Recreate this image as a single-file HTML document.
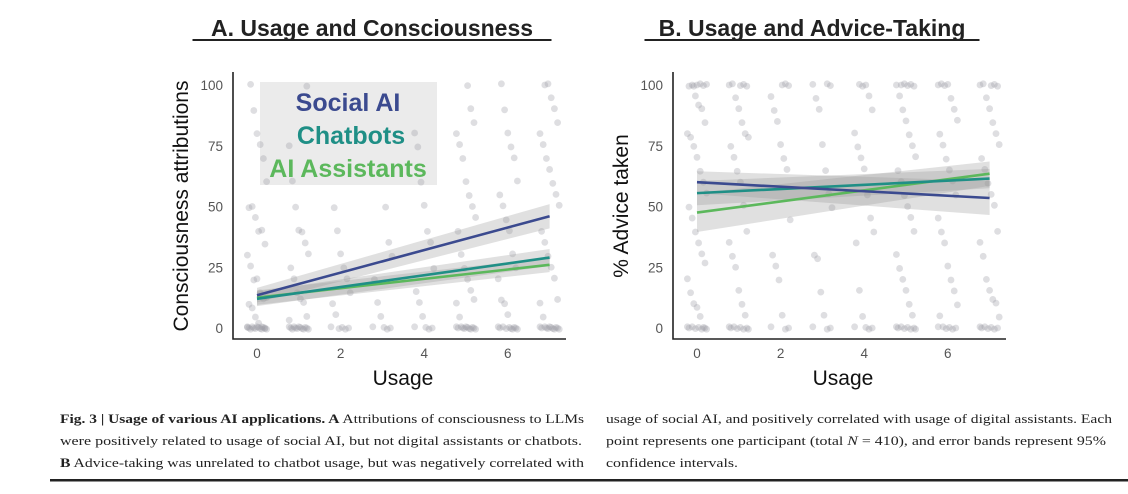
<!DOCTYPE html>
<html><head><meta charset="utf-8"><style>
html,body{margin:0;padding:0;background:#fff;width:1128px;height:494px;overflow:hidden}
svg text{font-family:"Liberation Sans",sans-serif}
.cap{font-family:"Liberation Serif",serif;font-size:13px;fill:#222}
</style></head><body>
<svg id="fig" width="1128" height="494" viewBox="0 0 1128 494">
<g id="pA"></g>
<g id="pB"></g>
<g>
<text class="cap" x="60" y="423" textLength="524" lengthAdjust="spacingAndGlyphs"><tspan font-weight="bold">Fig. 3 | Usage of various AI applications. A</tspan> Attributions of consciousness to LLMs</text>
<text class="cap" x="60" y="445" textLength="522" lengthAdjust="spacingAndGlyphs">were positively related to usage of social AI, but not digital assistants or chatbots.</text>
<text class="cap" x="60" y="467" textLength="524" lengthAdjust="spacingAndGlyphs"><tspan font-weight="bold">B</tspan> Advice-taking was unrelated to chatbot usage, but was negatively correlated with</text>
<text class="cap" x="606" y="423" textLength="506" lengthAdjust="spacingAndGlyphs">usage of social AI, and positively correlated with usage of digital assistants. Each</text>
<text class="cap" x="606" y="445" textLength="500" lengthAdjust="spacingAndGlyphs">point represents one participant (total <tspan font-style="italic">N</tspan> = 410), and error bands represent 95%</text>
<text class="cap" x="606" y="467" textLength="132" lengthAdjust="spacingAndGlyphs">confidence intervals.</text>
<rect x="50" y="479" width="1078" height="2.5" fill="#222"/>
</g>
</svg>
<script>
const usageTicks=[0,2,4,6];
const valueTicks=[0,25,50,75,100];
const seriesNames=["Social AI","Chatbots","AI Assistants"];
const seriesColors=["#3b4a8f","#1f8f86","#5cb85c"];
// fitted lines: value at usage 0 and usage 7, band half-width at 0 and 7
const fitA_start=[13.5,12,12.5];
const fitA_end=[46,29,26];
const bandA_start=[3,3,3];
const bandA_end=[5,3.5,3];
const fitB_start=[60,55.5,47.5];
const fitB_end=[53.5,61.5,63.5];
const bandB_start=[4.5,5,8];
const bandB_end=[7,4,5];
// scatter values per usage level (0..7)
const dotsA=[
[0,0,0,0,0,0,0,0,0,0,0,0,0,0,0,0,2,5,8,10,12,12,15,20,20,25,30,35,40,40,45,50,50,60,70,75,80,90,100],
[0,0,0,0,0,0,0,0,0,0,0,0,0,3,5,10,12,15,20,25,30,35,40,40,50,60,75,100],
[0,0,0,0,0,5,10,15,20,25,30,40,50],
[0,0,0,0,5,10,20,30,35,50],
[0,0,0,0,5,10,15,25,35,40,50,60,75,80],
[0,0,0,0,0,0,0,0,0,0,0,0,5,10,12,15,20,25,30,40,45,50,55,60,70,75,80,85,90,100],
[0,0,0,0,0,0,0,0,0,0,5,10,12,20,25,30,40,45,50,55,60,70,75,80,90,100],
[0,0,0,0,0,0,0,0,0,0,0,0,5,10,12,20,25,30,35,40,50,55,60,65,70,75,80,85,90,95,100,100]];
const dotsB=[
[0,0,0,0,0,0,0,0,0,5,8,10,15,20,27,30,35,40,45,50,55,60,65,70,75,78,80,85,90,92,95,100,100,100,100,100,100,100],
[0,0,0,0,0,0,0,0,5,10,15,25,30,35,40,50,60,65,70,75,78,80,85,90,95,100,100,100,100,100],
[0,0,0,5,20,25,30,45,65,70,75,85,90,95,100,100,100],
[0,0,0,5,15,28,30,50,55,65,75,90,95,100,100,100],
[0,0,0,0,5,15,35,40,45,55,65,70,75,80,90,95,100,100,100],
[0,0,0,0,0,0,0,0,5,10,15,20,25,30,40,45,50,55,60,65,70,75,80,85,90,95,100,100,100,100,100,100],
[0,0,0,0,0,0,5,10,15,20,25,35,40,45,55,60,65,70,75,80,85,90,95,100,100,100,100],
[0,0,0,0,0,0,0,5,10,12,15,20,30,35,40,50,55,60,65,70,75,80,85,90,95,100,100,100,100,100]];

const NS="http://www.w3.org/2000/svg";
function mk(p,tag,attrs){const e=document.createElementNS(NS,tag);for(const k in attrs)e.setAttribute(k,attrs[k]);p.appendChild(e);return e;}

function panel(g,x0,title,titleX,titleW,ylab,ylabX,dots,fs,fe,bs,be,legend){
  const xs=u=>x0+24+u*41.8;
  const ys=v=>328-v*2.43;
  const t=mk(g,'text',{x:titleX,y:36,'text-anchor':'middle','font-size':'23','font-weight':'bold',fill:'#222'});
  t.textContent=title;
  
  
  const ul=mk(g,'rect',{x:titleX-titleW/2,y:39,width:titleW,height:2,fill:'#222'});
  
  
  if(legend){
    const lb=mk(g,'rect',{x:260,y:82,width:177,height:103,fill:'#ebebeb'});
    
    
  }
  dots.forEach((arr,u)=>arr.forEach((v,i)=>{
    const j=((i*37)%13-6)*1.6;
    const c=mk(g,'circle',{cx:xs(u)+j,cy:ys(v)+((i*7)%5-2)*0.6,r:3.4,fill:'#9a9aa4','fill-opacity':0.33});
    
    
  }));
  for(let s=0;s<3;s++){
    const b=mk(g,'polygon',{points:`${xs(0)},${ys(fs[s]+bs[s])} ${xs(7)},${ys(fe[s]+be[s])} ${xs(7)},${ys(fe[s]-be[s])} ${xs(0)},${ys(fs[s]-bs[s])}`,fill:'#999','fill-opacity':0.3});
    
    
  }
  for(let s=2;s>=0;s--){
    const l=mk(g,'line',{x1:xs(0),y1:ys(fs[s]),x2:xs(7),y2:ys(fe[s]),stroke:seriesColors[s],'stroke-width':2.6});
    
    
  }
  const ax=mk(g,'path',{d:`M${x0},72 V339 H${x0+333}`,stroke:'#222','stroke-width':1.6,fill:'none'});
  
  
  valueTicks.forEach(v=>{const tt=mk(g,'text',{x:x0-10,y:ys(v)+5,'text-anchor':'end','font-size':'13.5',fill:'#555'});tt.textContent=v;
    
    });
  usageTicks.forEach(u=>{const tt=mk(g,'text',{x:xs(u),y:358,'text-anchor':'middle','font-size':'13.5',fill:'#555'});tt.textContent=u;
    
    });
  const xl=mk(g,'text',{x:x0+170,y:385,'text-anchor':'middle','font-size':'21',fill:'#111'});xl.textContent='Usage';
  
  
  const yl=mk(g,'text',{x:0,y:0,'text-anchor':'middle','font-size':'21',fill:'#111',transform:`translate(${ylabX},206) rotate(-90)`});yl.textContent=ylab;
  
  
  if(legend){
    [[348,111],[351,144],[348,177]].forEach((p,s)=>{
      const lt=mk(g,'text',{x:p[0],y:p[1],'text-anchor':'middle','font-size':'25','font-weight':'bold',fill:seriesColors[s]});
      lt.textContent=seriesNames[s];
      
      
    });
  }
}
panel(document.getElementById('pA'),233,'A. Usage and Consciousness',372,359,'Consciousness attributions',188,dotsA,fitA_start,fitA_end,bandA_start,bandA_end,true);
panel(document.getElementById('pB'),673,'B. Usage and Advice-Taking',812,335,'% Advice taken',628,dotsB,fitB_start,fitB_end,bandB_start,bandB_end,false);
</script>
</body></html>
